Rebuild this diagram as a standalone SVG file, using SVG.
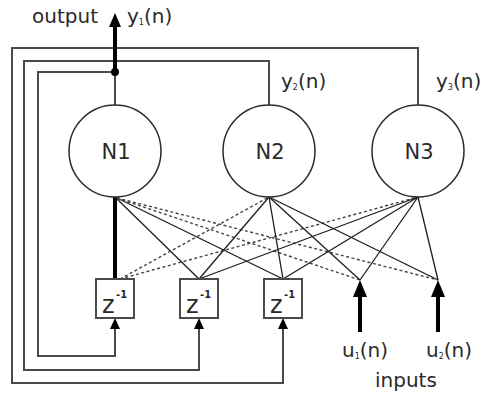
<svg xmlns="http://www.w3.org/2000/svg" width="484" height="400" viewBox="0 0 484 400">
<style>
text{font-family:"DejaVu Sans","Liberation Sans",sans-serif;fill:#2a2a2a}
.lbl{font-size:20px}
.sub{font-size:8px}
.nlab{font-size:21px;text-anchor:middle}
.z{font-size:24px}
.sup{font-size:10px;font-weight:bold}
.loop{fill:none;stroke:#4a4a4a;stroke-width:2}
.w{stroke:#1e1e1e;stroke-width:1.3;fill:none}
.d{stroke:#444;stroke-width:1.4;stroke-dasharray:3 2.5;fill:none}
.thick{stroke:#000;stroke-width:4;fill:none}
.node{fill:#fff;stroke:#2a2a2a;stroke-width:1.5}
.delay{fill:#fff;stroke:#4a4a4a;stroke-width:2}
.head{fill:#000}
</style>
<rect width="484" height="400" fill="#fff"/>
<g id="connectors">
  <path class="loop" d="M115,105 V72 H38 V356 H115 V328"/>
  <path class="loop" d="M269,105 V61 H24 V370 H199 V328"/>
  <path class="loop" d="M418,105 V48 H12 V383 H283 V328"/>
  <polygon class="head" points="115,318 110,329 120,329"/>
  <polygon class="head" points="199,318 194,329 204,329"/>
  <polygon class="head" points="283,318 278,329 288,329"/>
  <line class="thick" x1="115" y1="72" x2="115" y2="25"/>
  <polygon class="head" points="115,13 109,27 121,27"/>
  <circle cx="115" cy="72" r="4" fill="#000"/>
  <line class="thick" x1="360" y1="332" x2="360" y2="292"/>
  <polygon class="head" points="360,280 353,297 367,297"/>
  <line class="thick" x1="438" y1="332" x2="438" y2="292"/>
  <polygon class="head" points="438,280 431,297 445,297"/>
  <line class="thick" x1="115" y1="197" x2="115" y2="279"/>
  <line class="w" x1="115" y1="197" x2="199" y2="279"/>
  <line class="w" x1="115" y1="197" x2="283" y2="279"/>
  <line class="d" x1="117" y1="198" x2="360" y2="280"/>
  <line class="d" x1="117" y1="198" x2="438" y2="280"/>
  <line class="d" x1="120" y1="279" x2="269" y2="197"/>
  <line class="d" x1="120" y1="279" x2="418" y2="197"/>
  <line class="w" x1="269" y1="197" x2="199" y2="279"/>
  <line class="w" x1="269" y1="197" x2="283" y2="279"/>
  <line class="w" x1="269" y1="197" x2="360" y2="280"/>
  <line class="w" x1="269" y1="197" x2="438" y2="280"/>
  <line class="w" x1="418" y1="197" x2="199" y2="279"/>
  <line class="w" x1="418" y1="197" x2="283" y2="279"/>
  <line class="w" x1="418" y1="197" x2="360" y2="280"/>
  <line class="w" x1="418" y1="197" x2="438" y2="280"/>
</g>
<g id="N1">
  <circle class="node" cx="115" cy="151" r="46"/>
  <text class="nlab" x="116" y="159">N1</text>
</g>
<g id="N2">
  <circle class="node" cx="269" cy="151" r="46"/>
  <text class="nlab" x="270" y="159">N2</text>
</g>
<g id="N3">
  <circle class="node" cx="418" cy="151" r="46"/>
  <text class="nlab" x="419" y="159">N3</text>
</g>
<g id="delay1">
  <rect class="delay" x="96" y="279" width="38" height="39"/>
  <text class="z" x="102" y="313">z</text><text class="sup" x="116" y="298">-1</text>
</g>
<g id="delay2">
  <rect class="delay" x="180" y="279" width="38" height="39"/>
  <text class="z" x="186" y="313">z</text><text class="sup" x="200" y="298">-1</text>
</g>
<g id="delay3">
  <rect class="delay" x="264" y="279" width="38" height="39"/>
  <text class="z" x="270" y="313">z</text><text class="sup" x="284" y="298">-1</text>
</g>
<g id="labels">
  <text class="lbl" x="32" y="23">output</text>
  <text class="lbl" x="127" y="23">y<tspan class="sub" dy="2">1</tspan><tspan dy="-2">(n)</tspan></text>
  <text class="lbl" x="281" y="88">y<tspan class="sub" dy="2">2</tspan><tspan dy="-2">(n)</tspan></text>
  <text class="lbl" x="436" y="88">y<tspan class="sub" dy="2">3</tspan><tspan dy="-2">(n)</tspan></text>
  <text class="lbl" x="342" y="357">u<tspan class="sub" dy="2">1</tspan><tspan dy="-2">(n)</tspan></text>
  <text class="lbl" x="426" y="357">u<tspan class="sub" dy="2">2</tspan><tspan dy="-2">(n)</tspan></text>
  <text class="lbl" x="375" y="387">inputs</text>
</g>
</svg>
